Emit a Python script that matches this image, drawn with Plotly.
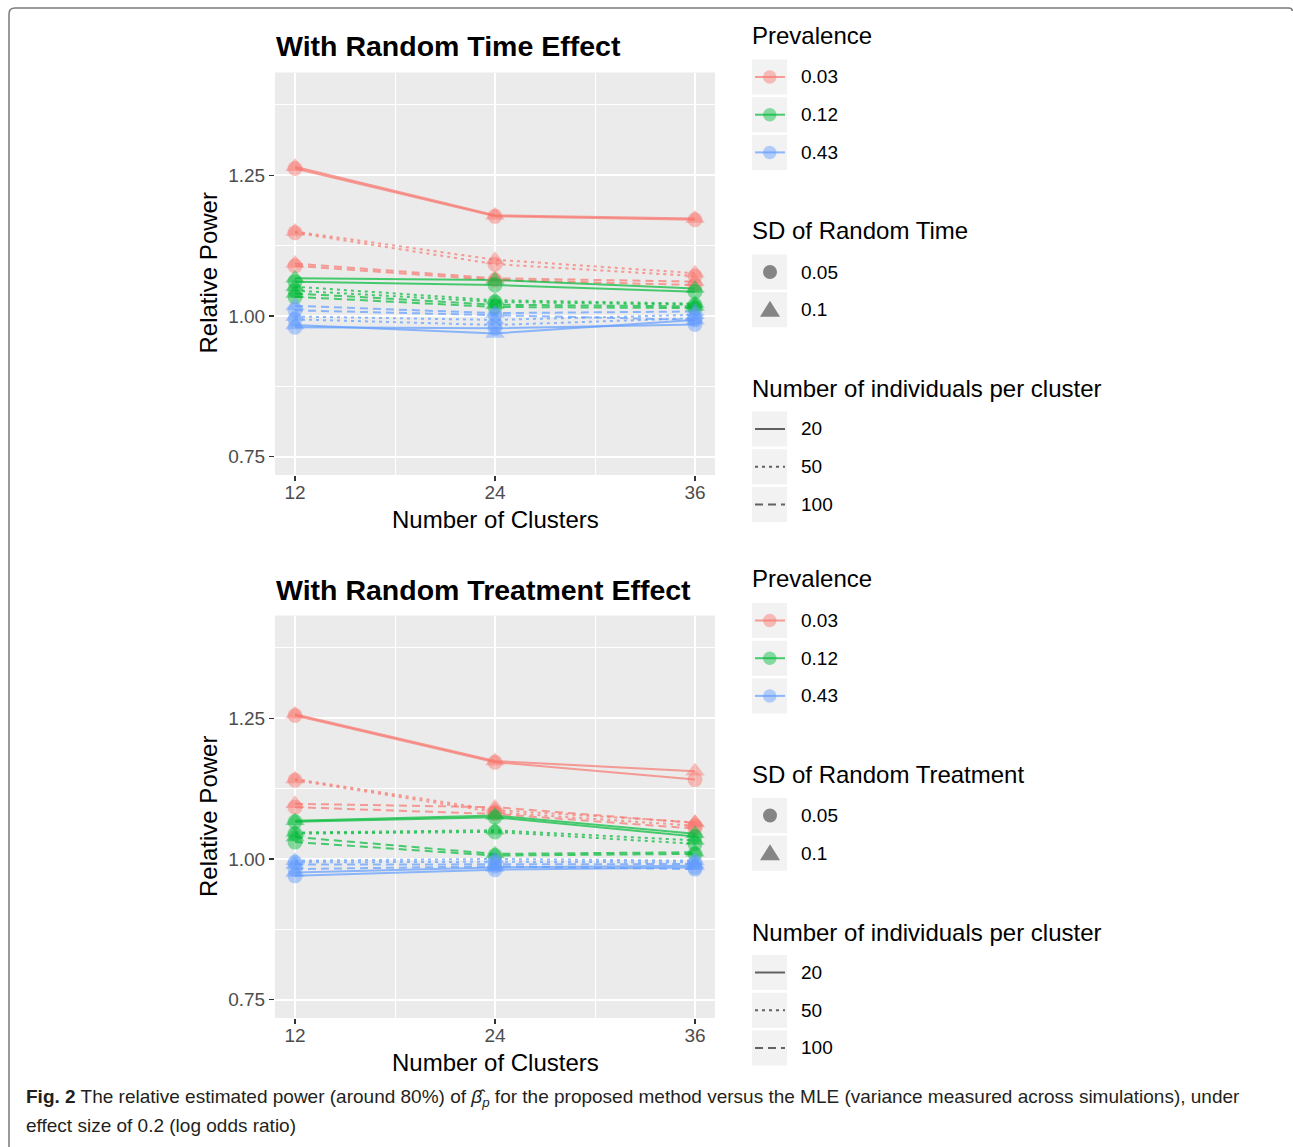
import plotly.graph_objects as go

W, H = 1293, 1147

# ---------------- data ----------------
clusters = [12, 24, 36]
x_ticks = [12, 24, 36]
y_ticks = [0.75, 1.00, 1.25]
prevalence_levels = ["0.03", "0.12", "0.43"]
sd_levels = ["0.05", "0.1"]
n_levels = ["20", "50", "100"]

# series order inside each list: (n=20,sd=0.05),(n=20,sd=0.1),(n=50,sd=0.05),(n=50,sd=0.1),(n=100,sd=0.05),(n=100,sd=0.1)
time_p003 = [[1.262, 1.177, 1.171], [1.265, 1.179, 1.173],
             [1.148, 1.092, 1.071], [1.150, 1.100, 1.076],
             [1.089, 1.064, 1.055], [1.093, 1.067, 1.061]]
time_p012 = [[1.061, 1.055, 1.043], [1.067, 1.064, 1.049],
             [1.045, 1.025, 1.020], [1.052, 1.028, 1.022],
             [1.034, 1.016, 1.014], [1.040, 1.020, 1.017]]
time_p043 = [[0.980, 0.978, 0.985], [0.984, 0.969, 0.993],
             [0.994, 0.984, 0.996], [0.999, 0.993, 1.002],
             [1.010, 1.002, 0.993], [1.018, 1.005, 1.008]]

treat_p003 = [[1.255, 1.172, 1.141], [1.257, 1.174, 1.156],
              [1.140, 1.083, 1.059], [1.142, 1.087, 1.065],
              [1.092, 1.080, 1.054], [1.098, 1.092, 1.064]]
treat_p012 = [[1.066, 1.074, 1.040], [1.068, 1.077, 1.045],
              [1.045, 1.048, 1.027], [1.047, 1.051, 1.033],
              [1.030, 1.006, 1.009], [1.039, 1.009, 1.012]]
treat_p043 = [[0.970, 0.981, 0.985], [0.976, 0.985, 0.988],
              [0.994, 0.995, 0.994], [0.997, 1.000, 0.997],
              [0.982, 0.987, 0.982], [0.990, 0.990, 0.991]]

# ---------------- styles ----------------
prev_rgb = ["248,118,109", "0,186,56", "97,156,255"]
sd_symbols = ["circle", "triangle-up"]
sd_sizes = [15, 17]
n_dash = ["solid", "3px,4px", "8px,5px"]

FONT = "Liberation Sans, Arial, sans-serif"

def X(p):
    return p / W

def Y(p):
    return 1 - p / H

fig = go.Figure()

panels = [("x", "y", [time_p003, time_p012, time_p043]),
          ("x2", "y2", [treat_p003, treat_p012, treat_p043])]

for xa, ya, groups in panels:
    # lines first
    for pi, series_list in enumerate(groups):
        for si, vals in enumerate(series_list):
            ni, sdi = si // 2, si % 2
            fig.add_trace(go.Scatter(
                x=clusters, y=vals, xaxis=xa, yaxis=ya, mode="lines",
                line=dict(color=f"rgba({prev_rgb[pi]},0.7)", width=2, dash=n_dash[ni]),
                showlegend=False, hoverinfo="skip"))
    # then points
    for pi, series_list in enumerate(groups):
        for si, vals in enumerate(series_list):
            ni, sdi = si // 2, si % 2
            fig.add_trace(go.Scatter(
                x=clusters, y=vals, xaxis=xa, yaxis=ya, mode="markers",
                marker=dict(symbol=sd_symbols[sdi], size=sd_sizes[sdi],
                            color=f"rgba({prev_rgb[pi]},0.45)", line=dict(width=0)),
                showlegend=False, hoverinfo="skip"))

axis_common = dict(
    showline=False, zeroline=False, ticks="outside", ticklen=5, tickwidth=1.2,
    tickcolor="#333333", tickfont=dict(family=FONT, size=19, color="#4D4D4D"),
    showgrid=True, gridcolor="white", gridwidth=2, fixedrange=True,
)

xdom = [X(275), X(715)]
top_dom = [Y(475), Y(72.5)]
bot_dom = [Y(1018), Y(615.5)]

xa_cfg = dict(axis_common, range=[10.8, 37.2], tickvals=x_ticks, ticktext=[str(v) for v in x_ticks],
              ticklabelstandoff=-5,
              minor=dict(tickvals=[18, 30], showgrid=True, gridcolor="white", gridwidth=1, ticks=""))
ya_cfg = dict(axis_common, range=[0.7175, 1.4325], tickvals=y_ticks,
              ticktext=[f"{v:.2f}" for v in y_ticks],
              minor=dict(tickvals=[0.875, 1.125, 1.375], showgrid=True, gridcolor="white", gridwidth=1, ticks=""))

fig.update_layout(
    width=W, height=H, margin=dict(l=0, r=0, t=0, b=0),
    paper_bgcolor="white", plot_bgcolor="#EBEBEB", showlegend=False,
    xaxis=dict(xa_cfg, domain=xdom, anchor="y"),
    yaxis=dict(ya_cfg, domain=top_dom, anchor="x"),
    xaxis2=dict(xa_cfg, domain=xdom, anchor="y2"),
    yaxis2=dict(ya_cfg, domain=bot_dom, anchor="x2"),
)

annotations = []
shapes = []

def text(x, y, s, size, anchor="left", bold=False, color="black", angle=0, family=FONT):
    if anchor == "left":
        x = x - 2.5
    annotations.append(dict(
        x=X(x), y=Y(y), xref="paper", yref="paper", text=(f"<b>{s}</b>" if bold else s),
        showarrow=False, xanchor=anchor, yanchor="middle", textangle=angle,
        font=dict(family=family, size=size, color=color)))

panel_titles = ["With Random Time Effect", "With Random Treatment Effect"]
sd_titles = ["SD of Random Time", "SD of Random Treatment"]

for k, off in enumerate([0, 543.5]):
    # titles
    text(276, 46 + off, panel_titles[k], 28.5, bold=True)
    text(495, 519 + off, "Number of Clusters", 24, anchor="center", color="#000000")
    text(208, 273.5 + off, "Relative Power", 24, anchor="center", angle=-90)

    # legend: prevalence
    text(752, 35 + off, "Prevalence", 24)
    for i, lab in enumerate(prevalence_levels):
        cy = 77 + off + i * 37.7
        shapes.append(dict(type="rect", xref="paper", yref="paper", x0=X(752), x1=X(787),
                           y0=Y(cy + 17.5), y1=Y(cy - 17.5), fillcolor="#F2F2F2", line=dict(width=0)))
        shapes.append(dict(type="line", xref="paper", yref="paper", x0=X(755), x1=X(785),
                           y0=Y(cy), y1=Y(cy), line=dict(color=f"rgba({prev_rgb[i]},0.7)", width=2)))
        shapes.append(dict(type="circle", xref="paper", yref="paper", x0=X(763), x1=X(776.5),
                           y0=Y(cy + 6.75), y1=Y(cy - 6.75), fillcolor=f"rgba({prev_rgb[i]},0.45)",
                           line=dict(width=0)))
        text(801, cy, lab, 19)

    # legend: SD
    text(752, 231 + off, sd_titles[k], 24)
    for i, lab in enumerate(sd_levels):
        cy = 272 + off + i * 37.7
        shapes.append(dict(type="rect", xref="paper", yref="paper", x0=X(752), x1=X(787),
                           y0=Y(cy + 17.5), y1=Y(cy - 17.5), fillcolor="#F2F2F2", line=dict(width=0)))
        if i == 0:
            shapes.append(dict(type="circle", xref="paper", yref="paper", x0=X(763), x1=X(777),
                               y0=Y(cy + 7), y1=Y(cy - 7), fillcolor="rgba(0,0,0,0.45)",
                               line=dict(width=0)))
        else:
            shapes.append(dict(type="path", xref="paper", yref="paper",
                               path=f"M {X(760)},{Y(cy + 7)} L {X(780)},{Y(cy + 7)} L {X(770)},{Y(cy - 9)} Z",
                               fillcolor="rgba(0,0,0,0.45)", line=dict(width=0)))
        text(801, cy, lab, 19)

    # legend: n per cluster
    text(752, 388.5 + off, "Number of individuals per cluster", 24)
    for i, lab in enumerate(n_levels):
        cy = 429 + off + i * 37.7
        shapes.append(dict(type="rect", xref="paper", yref="paper", x0=X(752), x1=X(787),
                           y0=Y(cy + 17.5), y1=Y(cy - 17.5), fillcolor="#F2F2F2", line=dict(width=0)))
        shapes.append(dict(type="line", xref="paper", yref="paper", x0=X(755), x1=X(785),
                           y0=Y(cy), y1=Y(cy), line=dict(color="rgba(0,0,0,0.6)", width=2, dash=n_dash[i])))
        text(801, cy, lab, 19)

# caption
CAP_FONT = "Liberation Sans, Arial, sans-serif"
text(26, 1098,
     "<b>Fig. 2</b> The relative estimated power (around 80%) of <i>β̂</i><sub><i>p</i></sub> for the proposed method "
     "versus the MLE (variance measured across simulations), under",
     19, color="#231F20", family=CAP_FONT)
text(26, 1125, "effect size of 0.2 (log odds ratio)", 19, color="#231F20", family=CAP_FONT)

# frame border
shapes.append(dict(type="path", xref="paper", yref="paper",
                   path=(f"M {X(9)},{Y(1147)} L {X(9)},{Y(14)} Q {X(9)},{Y(8)} {X(15)},{Y(8)} "
                         f"L {X(1289)},{Y(8)} Q {X(1292)},{Y(8)} {X(1292.5)},{Y(11)}"),
                   line=dict(color="#7A7A7A", width=1.5)))

fig.update_layout(annotations=annotations, shapes=shapes)

fig.write_html("out.html", config=dict(displayModeBar=False, staticPlot=True),
               post_script="document.body.style.margin='0';document.body.style.overflow='hidden';")
